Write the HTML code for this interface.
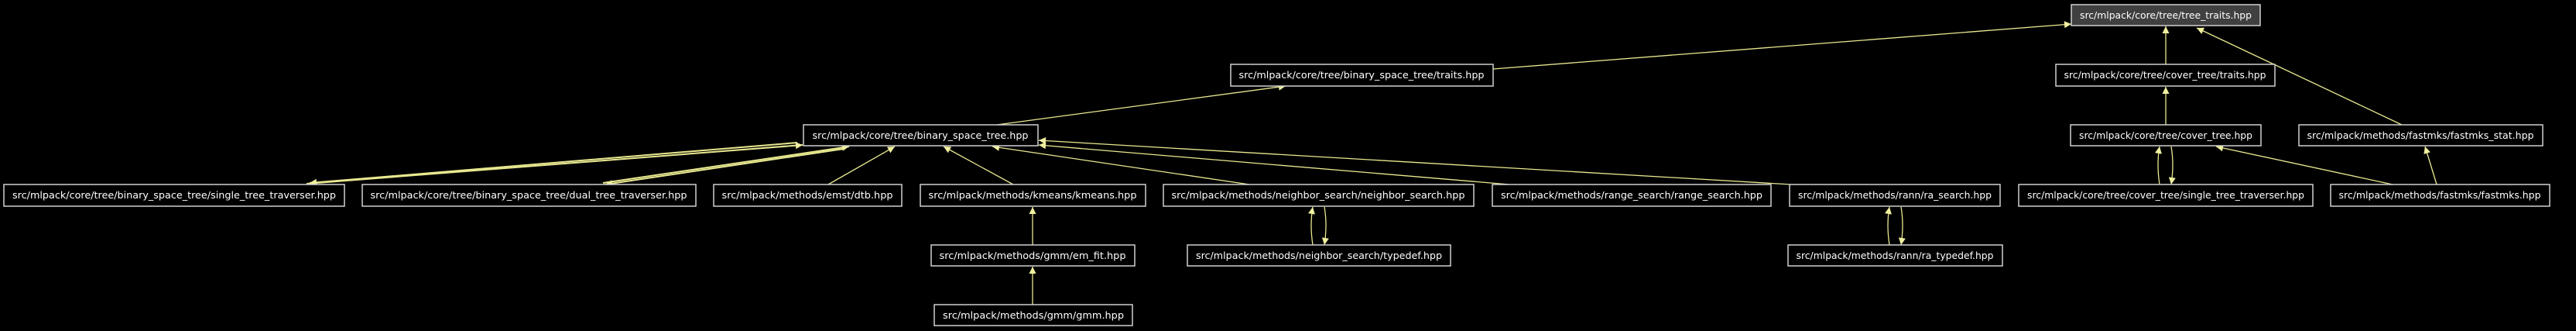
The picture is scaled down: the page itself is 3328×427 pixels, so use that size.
<!DOCTYPE html>
<html><head><meta charset="utf-8"><style>html,body{margin:0;padding:0;background:#000}svg{display:block}</style></head><body>
<svg width="3328" height="427" viewBox="0 0 3328 427" xmlns="http://www.w3.org/2000/svg" font-family="DejaVu Sans, Liberation Sans, sans-serif" font-size="12">
<defs>
<marker id="a" viewBox="0 0 10 10" refX="10" refY="5" markerWidth="10" markerHeight="9" markerUnits="userSpaceOnUse" orient="auto"><path d="M0,0 L10,5 L0,10 z" fill="#f0f0a0"/></marker>
</defs>
<g stroke="#e8e890" stroke-width="1.3" fill="none" marker-end="url(#a)">
<line x1="1929" y1="89" x2="2676" y2="31"/>
<line x1="1288" y1="161" x2="1661" y2="111"/>
<line x1="2798" y1="83" x2="2798" y2="34"/>
<line x1="2798" y1="161" x2="2798" y2="112"/>
<line x1="3103" y1="161" x2="2838" y2="36"/>
<line x1="396" y1="237" x2="1037" y2="187" stroke-width="2"/>
<line x1="1030" y1="184" x2="400" y2="236" stroke-width="2"/>
<line x1="779" y1="236" x2="1097" y2="189" stroke-width="2"/>
<line x1="1090" y1="192" x2="782" y2="238" stroke-width="2"/>
<line x1="1070" y1="238" x2="1156" y2="189"/>
<line x1="1309" y1="238" x2="1219" y2="189"/>
<line x1="1614" y1="238" x2="1282" y2="189"/>
<line x1="1950" y1="238" x2="1342" y2="187"/>
<line x1="2314" y1="238" x2="1342" y2="181"/>
<line x1="1334" y1="316" x2="1334" y2="267"/>
<line x1="1334" y1="393" x2="1334" y2="344"/>
<path d="M1696,316 Q1692,290 1696,267"/>
<path d="M1711,267 Q1715,290 1711,316"/>
<path d="M2441,316 Q2437,290 2441,267"/>
<path d="M2456,267 Q2460,290 2456,316"/>
<path d="M2790,238 Q2786,212 2790,189"/>
<path d="M2805,189 Q2809,212 2805,238"/>
<line x1="3091" y1="238" x2="2863" y2="189"/>
<line x1="3148" y1="238" x2="3133" y2="189"/>
</g>
<g stroke="#d0d0d0" stroke-width="1.5" fill="#000">
<rect x="2676" y="6" width="244" height="27" fill="#404040"/>
<rect x="1590" y="83" width="339" height="28"/>
<rect x="2656" y="83" width="283" height="28"/>
<rect x="1038" y="161" width="303" height="27"/>
<rect x="2675" y="161" width="246" height="27"/>
<rect x="2970" y="161" width="315" height="27"/>
<rect x="5" y="238" width="440" height="28"/>
<rect x="468" y="238" width="431" height="28"/>
<rect x="922" y="238" width="243" height="28"/>
<rect x="1189" y="238" width="291" height="28"/>
<rect x="1503" y="238" width="401" height="28"/>
<rect x="1928" y="238" width="360" height="28"/>
<rect x="2312" y="238" width="272" height="28"/>
<rect x="2608" y="238" width="380" height="28"/>
<rect x="3011" y="238" width="283" height="28"/>
<rect x="1203" y="316" width="263" height="27"/>
<rect x="1534" y="316" width="340" height="27"/>
<rect x="2310" y="316" width="277" height="27"/>
<rect x="1207" y="393" width="256" height="27"/>
</g>
<g fill="#fff" text-anchor="middle" lengthAdjust="spacingAndGlyphs">
<text x="2798" y="24" textLength="222" lengthAdjust="spacingAndGlyphs">src/mlpack/core/tree/tree_traits.hpp</text>
<text x="1759" y="101" textLength="317" lengthAdjust="spacingAndGlyphs">src/mlpack/core/tree/binary_space_tree/traits.hpp</text>
<text x="2797" y="101" textLength="261" lengthAdjust="spacingAndGlyphs">src/mlpack/core/tree/cover_tree/traits.hpp</text>
<text x="1189" y="179" textLength="279" lengthAdjust="spacingAndGlyphs">src/mlpack/core/tree/binary_space_tree.hpp</text>
<text x="2798" y="179" textLength="224" lengthAdjust="spacingAndGlyphs">src/mlpack/core/tree/cover_tree.hpp</text>
<text x="3127" y="179" textLength="293" lengthAdjust="spacingAndGlyphs">src/mlpack/methods/fastmks/fastmks_stat.hpp</text>
<text x="225" y="256" textLength="418" lengthAdjust="spacingAndGlyphs">src/mlpack/core/tree/binary_space_tree/single_tree_traverser.hpp</text>
<text x="683" y="256" textLength="409" lengthAdjust="spacingAndGlyphs">src/mlpack/core/tree/binary_space_tree/dual_tree_traverser.hpp</text>
<text x="1043" y="256" textLength="221" lengthAdjust="spacingAndGlyphs">src/mlpack/methods/emst/dtb.hpp</text>
<text x="1334" y="256" textLength="269" lengthAdjust="spacingAndGlyphs">src/mlpack/methods/kmeans/kmeans.hpp</text>
<text x="1703" y="256" textLength="379" lengthAdjust="spacingAndGlyphs">src/mlpack/methods/neighbor_search/neighbor_search.hpp</text>
<text x="2108" y="256" textLength="338" lengthAdjust="spacingAndGlyphs">src/mlpack/methods/range_search/range_search.hpp</text>
<text x="2448" y="256" textLength="250" lengthAdjust="spacingAndGlyphs">src/mlpack/methods/rann/ra_search.hpp</text>
<text x="2798" y="256" textLength="358" lengthAdjust="spacingAndGlyphs">src/mlpack/core/tree/cover_tree/single_tree_traverser.hpp</text>
<text x="3152" y="256" textLength="261" lengthAdjust="spacingAndGlyphs">src/mlpack/methods/fastmks/fastmks.hpp</text>
<text x="1334" y="334" textLength="241" lengthAdjust="spacingAndGlyphs">src/mlpack/methods/gmm/em_fit.hpp</text>
<text x="1704" y="334" textLength="318" lengthAdjust="spacingAndGlyphs">src/mlpack/methods/neighbor_search/typedef.hpp</text>
<text x="2448" y="334" textLength="255" lengthAdjust="spacingAndGlyphs">src/mlpack/methods/rann/ra_typedef.hpp</text>
<text x="1335" y="411" textLength="234" lengthAdjust="spacingAndGlyphs">src/mlpack/methods/gmm/gmm.hpp</text>
</g>
</svg>
</body></html>
